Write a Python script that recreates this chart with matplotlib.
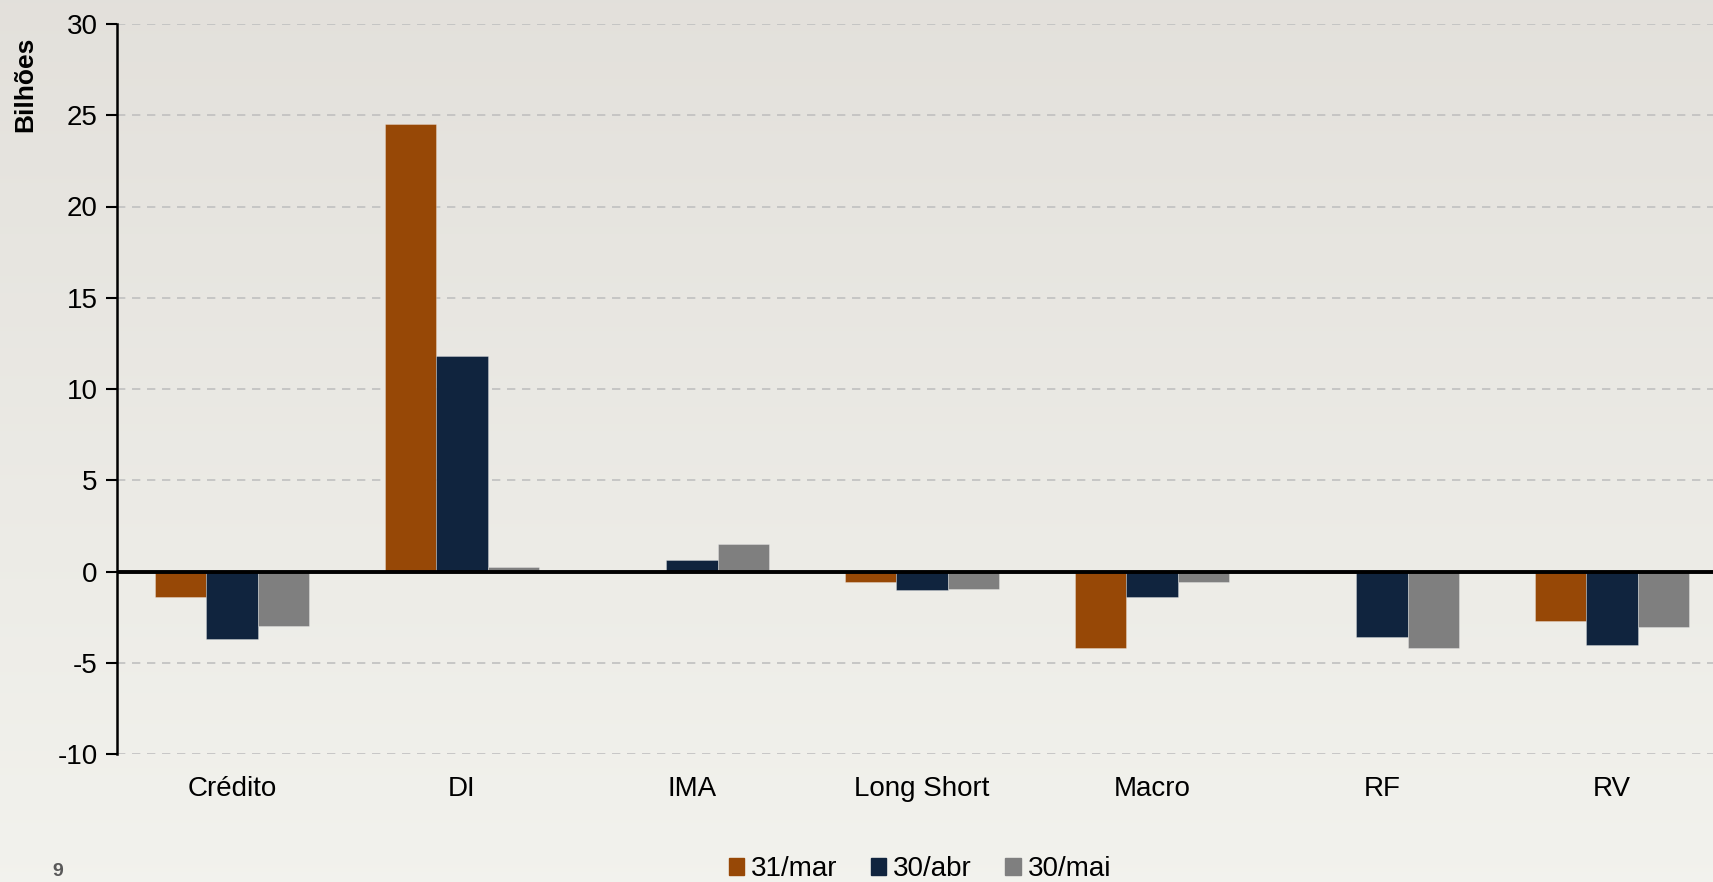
import matplotlib.pyplot as plt
import numpy as np
from matplotlib.patches import Patch

plt.rcParams["font.family"] = ["Liberation Sans", "DejaVu Sans"]

categories = ["Crédito", "DI", "IMA", "Long Short", "Macro", "RF", "RV"]
series_labels = ["31/mar", "30/abr", "30/mai"]
mar_values = [-1.4, 24.5, 0.0, -0.55, -4.2, -0.1, -2.7]
abr_values = [-3.7, 11.8, 0.65, -1.0, -1.4, -3.6, -4.0]
mai_values = [-3.0, 0.25, 1.5, -0.95, -0.55, -4.2, -3.05]
yticks = [-10, -5, 0, 5, 10, 15, 20, 25, 30]

colors = ["#974806", "#10243e", "#7f7f7f"]

fig = plt.figure(figsize=(17.13, 8.82), dpi=100)

# soft vertical background shading
bg = fig.add_axes([0, 0, 1, 1], zorder=-10)
grad = np.linspace(0, 1, 256).reshape(-1, 1)
top = np.array([0.89, 0.88, 0.86])
bottom = np.array([0.95, 0.95, 0.93])
img = top + (bottom - top) * grad[:, :, None]
bg.imshow(img, aspect="auto", extent=[0, 1, 0, 1], origin="upper")
bg.axis("off")

ax = fig.add_axes([117 / 1713, 128 / 882, 1610 / 1713, 730 / 882])
ax.set_facecolor("none")

x = np.arange(len(categories))
w = 0.223
for k, vals in enumerate([mar_values, abr_values, mai_values]):
    ax.bar(x + (k - 1) * w, vals, width=w, color=colors[k],
           edgecolor="#ffffff55", linewidth=0.6, zorder=3)

ax.axhline(0, color="black", lw=2.8, zorder=4)
ax.set_xlim(-0.5, len(categories) - 0.5)
ax.set_ylim(-10, 30)
ax.set_yticks(yticks)
ax.set_yticklabels([str(t) for t in yticks], fontsize=20)
ax.yaxis.grid(True, linestyle=(0, (5, 4)), color="#c0c0c0", lw=1.2, zorder=0)

ax.set_xticks(x)
ax.set_xticklabels(categories, fontsize=20)
ax.tick_params(axis="x", length=0, pad=16)
ax.tick_params(axis="y", direction="out", length=8, width=1.5, pad=6)

for side in ["top", "right", "bottom"]:
    ax.spines[side].set_visible(False)
ax.spines["left"].set_linewidth(1.8)

fig.text(25 / 1713, 1 - 84 / 882, "Bilhões", rotation=90, fontsize=19,
         fontweight="bold", ha="center", va="center")
fig.text(58 / 1713, 1 - 872 / 882, "9", fontsize=14, fontweight="bold",
         color="#595959", ha="center", va="center")

handles = [Patch(color=c, label=l) for c, l in zip(colors, series_labels)]
fig.legend(handles=handles, loc="center", bbox_to_anchor=(920 / 1713, 1 - 869 / 882),
           ncol=3, frameon=False, fontsize=20, handlelength=0.55, handleheight=0.55,
           handletextpad=0.25, columnspacing=1.2, borderpad=0)

fig.savefig("out.png", dpi=100)
